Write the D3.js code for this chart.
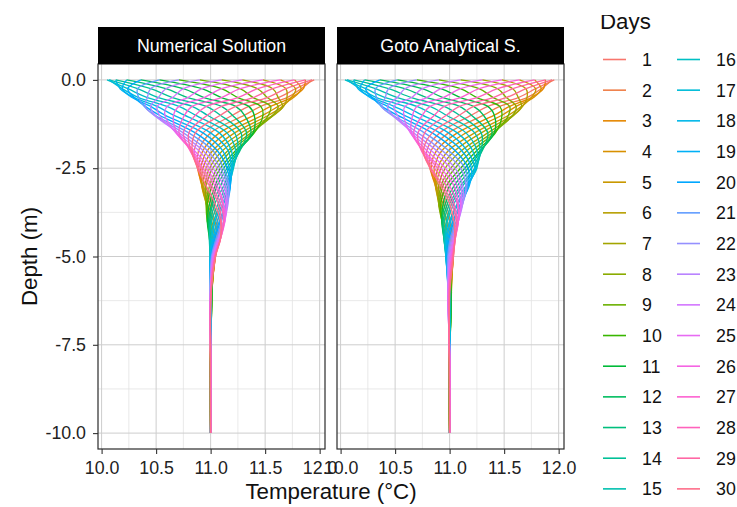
<!DOCTYPE html>
<html>
<head>
<meta charset="utf-8">
<script src="https://cdn.jsdelivr.net/npm/d3@7"></script>
<style>
  body { margin: 0; background: #fff; }
  svg { display: block; font-family: "Liberation Sans", Arial, Helvetica, sans-serif; }
</style>
</head>
<body>
<svg id="chart" width="737" height="507"></svg>
<script>
// ---- data ----
var days = [1, 2, 3, 4, 5, 6, 7, 8, 9, 10, 11, 12, 13, 14, 15,
            16, 17, 18, 19, 20, 21, 22, 23, 24, 25, 26, 27, 28, 29, 30];
var depths = [0, -0.25, -0.5, -0.75, -1, -1.5, -2, -2.5, -3, -3.5, -4, -4.5, -5, -6, -8, -10];

// temperature (°C), one row per depth, one column per day
var numericalT = [
  [11.95, 11.93, 11.87, 11.77, 11.64, 11.48, 11.29, 11.10, 10.90, 10.71, 10.53, 10.36, 10.23, 10.13, 10.07, 10.05, 10.07, 10.13, 10.23, 10.36, 10.53, 10.71, 10.90, 11.10, 11.29, 11.48, 11.64, 11.77, 11.87, 11.93],
  [11.78, 11.83, 11.85, 11.83, 11.78, 11.69, 11.57, 11.43, 11.27, 11.10, 10.92, 10.75, 10.59, 10.45, 10.33, 10.24, 10.19, 10.17, 10.19, 10.24, 10.33, 10.45, 10.59, 10.75, 10.92, 11.10, 11.27, 11.43, 11.57, 11.69],
  [11.62, 11.70, 11.74, 11.76, 11.74, 11.70, 11.62, 11.52, 11.39, 11.25, 11.10, 10.94, 10.79, 10.65, 10.52, 10.42, 10.34, 10.30, 10.28, 10.30, 10.34, 10.42, 10.52, 10.65, 10.79, 10.94, 11.10, 11.25, 11.39, 11.52],
  [11.35, 11.46, 11.55, 11.62, 11.66, 11.67, 11.66, 11.62, 11.55, 11.46, 11.35, 11.23, 11.10, 10.96, 10.83, 10.71, 10.60, 10.51, 10.45, 10.40, 10.39, 10.40, 10.45, 10.51, 10.60, 10.71, 10.83, 10.96, 11.10, 11.23],
  [11.20, 11.31, 11.40, 11.48, 11.53, 11.57, 11.58, 11.57, 11.53, 11.48, 11.40, 11.31, 11.20, 11.09, 10.97, 10.86, 10.76, 10.66, 10.58, 10.53, 10.49, 10.48, 10.49, 10.53, 10.58, 10.66, 10.76, 10.86, 10.97, 11.09],
  [10.93, 11.00, 11.08, 11.15, 11.22, 11.28, 11.33, 11.37, 11.39, 11.40, 11.39, 11.37, 11.33, 11.28, 11.22, 11.15, 11.08, 11.00, 10.93, 10.86, 10.80, 10.75, 10.71, 10.69, 10.68, 10.69, 10.71, 10.75, 10.80, 10.86],
  [10.85, 10.89, 10.93, 10.97, 11.02, 11.06, 11.11, 11.16, 11.19, 11.23, 11.25, 11.26, 11.27, 11.26, 11.25, 11.23, 11.19, 11.16, 11.11, 11.06, 11.02, 10.97, 10.93, 10.89, 10.85, 10.83, 10.82, 10.81, 10.82, 10.83],
  [10.88, 10.88, 10.89, 10.91, 10.93, 10.96, 10.99, 11.02, 11.06, 11.09, 11.12, 11.15, 11.17, 11.19, 11.20, 11.21, 11.20, 11.19, 11.17, 11.15, 11.12, 11.09, 11.06, 11.02, 10.99, 10.96, 10.93, 10.91, 10.89, 10.88],
  [10.95, 10.93, 10.92, 10.92, 10.92, 10.93, 10.95, 10.96, 10.99, 11.01, 11.04, 11.06, 11.09, 11.12, 11.14, 11.16, 11.17, 11.18, 11.18, 11.18, 11.17, 11.16, 11.14, 11.12, 11.09, 11.06, 11.04, 11.01, 10.99, 10.96],
  [11.02, 11.01, 10.99, 10.97, 10.96, 10.96, 10.96, 10.96, 10.96, 10.97, 10.99, 11.01, 11.02, 11.04, 11.07, 11.09, 11.11, 11.12, 11.14, 11.15, 11.15, 11.16, 11.15, 11.15, 11.14, 11.12, 11.11, 11.09, 11.07, 11.04],
  [11.08, 11.06, 11.04, 11.03, 11.01, 11.00, 10.99, 10.98, 10.97, 10.97, 10.97, 10.98, 10.99, 11.00, 11.01, 11.03, 11.04, 11.06, 11.08, 11.09, 11.10, 11.12, 11.12, 11.13, 11.13, 11.13, 11.12, 11.12, 11.10, 11.09],
  [11.08, 11.07, 11.07, 11.06, 11.05, 11.04, 11.03, 11.02, 11.01, 11.00, 10.99, 10.99, 10.99, 10.99, 10.99, 11.00, 11.01, 11.02, 11.03, 11.04, 11.05, 11.06, 11.07, 11.07, 11.08, 11.09, 11.09, 11.09, 11.09, 11.09],
  [11.045, 11.044, 11.043, 11.040, 11.037, 11.033, 11.028, 11.023, 11.017, 11.012, 11.007, 11.003, 11.000, 10.997, 10.996, 10.995, 10.996, 10.997, 11.000, 11.003, 11.007, 11.012, 11.017, 11.023, 11.028, 11.033, 11.037, 11.040, 11.043, 11.044],
  [11.007, 11.009, 11.010, 11.011, 11.012, 11.013, 11.013, 11.013, 11.012, 11.011, 11.010, 11.009, 11.007, 11.006, 11.004, 11.003, 11.001, 11.000, 10.999, 10.998, 10.997, 10.997, 10.997, 10.998, 10.999, 11.000, 11.001, 11.003, 11.004, 11.006],
  [10.998, 10.998, 10.998, 10.998, 10.998, 10.998, 10.998, 10.999, 10.999, 10.999, 11.000, 11.000, 11.001, 11.001, 11.001, 11.002, 11.002, 11.002, 11.002, 11.002, 11.002, 11.002, 11.001, 11.001, 11.001, 11.000, 11.000, 10.999, 10.999, 10.999],
  [11, 11, 11, 11, 11, 11, 11, 11, 11, 11, 11, 11, 11, 11, 11, 11, 11, 11, 11, 11, 11, 11, 11, 11, 11, 11, 11, 11, 11, 11]
];

var gotoT = [
  [11.96, 11.94, 11.88, 11.78, 11.64, 11.48, 11.30, 11.10, 10.90, 10.70, 10.52, 10.36, 10.22, 10.12, 10.06, 10.04, 10.06, 10.12, 10.22, 10.36, 10.52, 10.70, 10.90, 11.10, 11.30, 11.48, 11.64, 11.78, 11.88, 11.94],
  [11.79, 11.84, 11.86, 11.84, 11.79, 11.70, 11.58, 11.44, 11.27, 11.10, 10.92, 10.75, 10.59, 10.44, 10.32, 10.23, 10.18, 10.16, 10.18, 10.23, 10.32, 10.44, 10.59, 10.75, 10.92, 11.10, 11.27, 11.44, 11.58, 11.70],
  [11.63, 11.71, 11.75, 11.77, 11.75, 11.71, 11.63, 11.52, 11.40, 11.25, 11.10, 10.94, 10.79, 10.65, 10.52, 10.41, 10.33, 10.29, 10.27, 10.29, 10.33, 10.41, 10.52, 10.65, 10.79, 10.94, 11.10, 11.25, 11.40, 11.52],
  [11.35, 11.46, 11.55, 11.61, 11.66, 11.67, 11.66, 11.61, 11.55, 11.46, 11.35, 11.22, 11.09, 10.95, 10.82, 10.70, 10.59, 10.49, 10.43, 10.38, 10.37, 10.38, 10.43, 10.49, 10.59, 10.70, 10.82, 10.95, 11.09, 11.22],
  [11.20, 11.31, 11.41, 11.48, 11.54, 11.58, 11.59, 11.58, 11.54, 11.48, 11.41, 11.31, 11.20, 11.09, 10.97, 10.86, 10.75, 10.66, 10.58, 10.52, 10.48, 10.47, 10.48, 10.52, 10.58, 10.66, 10.75, 10.86, 10.97, 11.09],
  [10.91, 10.99, 11.07, 11.15, 11.23, 11.29, 11.35, 11.39, 11.41, 11.42, 11.41, 11.39, 11.35, 11.29, 11.23, 11.15, 11.07, 10.99, 10.91, 10.84, 10.77, 10.71, 10.67, 10.65, 10.64, 10.65, 10.67, 10.71, 10.77, 10.84],
  [10.79, 10.83, 10.88, 10.93, 10.99, 11.05, 11.11, 11.16, 11.21, 11.25, 11.28, 11.29, 11.30, 11.29, 11.28, 11.25, 11.21, 11.16, 11.11, 11.05, 10.99, 10.93, 10.88, 10.83, 10.79, 10.76, 10.75, 10.74, 10.75, 10.76],
  [10.82, 10.82, 10.83, 10.86, 10.89, 10.92, 10.96, 11.01, 11.05, 11.10, 11.14, 11.17, 11.20, 11.23, 11.24, 11.25, 11.24, 11.23, 11.20, 11.17, 11.14, 11.10, 11.05, 11.01, 10.96, 10.92, 10.89, 10.86, 10.83, 10.82],
  [10.90, 10.88, 10.87, 10.87, 10.87, 10.88, 10.90, 10.92, 10.94, 10.97, 11.00, 11.04, 11.07, 11.10, 11.12, 11.15, 11.16, 11.17, 11.18, 11.17, 11.16, 11.15, 11.12, 11.10, 11.07, 11.04, 11.00, 10.97, 10.94, 10.92],
  [10.98, 10.96, 10.94, 10.92, 10.91, 10.90, 10.90, 10.90, 10.91, 10.92, 10.94, 10.96, 10.98, 11.00, 11.02, 11.04, 11.07, 11.08, 11.10, 11.11, 11.12, 11.12, 11.12, 11.11, 11.10, 11.08, 11.07, 11.04, 11.02, 11.00],
  [11.03, 11.01, 11.00, 10.98, 10.97, 10.95, 10.94, 10.93, 10.93, 10.93, 10.93, 10.93, 10.94, 10.95, 10.97, 10.98, 11.00, 11.01, 11.03, 11.04, 11.06, 11.07, 11.08, 11.08, 11.08, 11.08, 11.08, 11.07, 11.06, 11.04],
  [11.042, 11.035, 11.026, 11.016, 11.005, 10.995, 10.984, 10.974, 10.965, 10.958, 10.952, 10.949, 10.948, 10.949, 10.952, 10.958, 10.965, 10.974, 10.984, 10.995, 11.005, 11.016, 11.026, 11.035, 11.042, 11.048, 11.051, 11.052, 11.051, 11.048],
  [11.035, 11.034, 11.032, 11.028, 11.023, 11.018, 11.011, 11.004, 10.996, 10.989, 10.982, 10.977, 10.972, 10.968, 10.966, 10.965, 10.966, 10.968, 10.972, 10.977, 10.982, 10.989, 10.996, 11.004, 11.011, 11.018, 11.023, 11.028, 11.032, 11.034],
  [11.005, 11.008, 11.011, 11.013, 11.015, 11.016, 11.016, 11.016, 11.015, 11.013, 11.011, 11.008, 11.005, 11.002, 10.998, 10.995, 10.992, 10.989, 10.987, 10.985, 10.984, 10.984, 10.984, 10.985, 10.987, 10.989, 10.992, 10.995, 10.998, 11.002],
  [10.997, 10.996, 10.996, 10.996, 10.996, 10.996, 10.997, 10.997, 10.998, 10.999, 11.000, 11.000, 11.001, 11.002, 11.003, 11.003, 11.004, 11.004, 11.004, 11.004, 11.004, 11.003, 11.003, 11.002, 11.001, 11.000, 11.000, 10.999, 10.998, 10.997],
  [11, 11, 11, 11, 11, 11, 11, 11, 11, 11, 11, 11, 11, 11, 11, 11, 11, 11, 11, 11, 11, 11, 11, 11, 11, 11, 11, 11, 11, 11]
];

var panelTitles = ["Numerical Solution", "Goto Analytical S."];
var xTicks = [10, 10.5, 11, 11.5, 12];
var xMinor = [10.25, 10.75, 11.25, 11.75];
var yTicks = [0, -2.5, -5, -7.5, -10];
var yMinor = [-1.25, -3.75, -6.25, -8.75];

// ---- layout ----
var svg = d3.select("#chart");
var font = "'Liberation Sans', Arial, Helvetica, sans-serif";
var panelW = 227, panelTop = 64, panelBottom = 449, stripTop = 27;
var panelX = [98, 337];

var x = d3.scaleLinear().domain([9.967, 12.049]).range([0, panelW]);
var y = d3.scaleLinear().domain([-10.45, 0.45]).range([panelBottom, panelTop]);

// ggplot2 default hue palette (hcl in polar Luv, c = 100, l = 65)
function hueColor(h) {
  var L = 65, C = 100, hr = h * Math.PI / 180;
  var U = C * Math.cos(hr), V = C * Math.sin(hr);
  var Y = 100 * Math.pow((L + 16) / 116, 3);
  var u = U / (13 * L) + 0.1978398, v = V / (13 * L) + 0.4683363;
  var X = 9 * Y * u / (4 * v);
  var Z = -X / 3 - 5 * Y + 3 * Y / v;
  function g(t) {
    t = t > 0.00304 ? 1.055 * Math.pow(t, 1 / 2.4) - 0.055 : 12.92 * t;
    return Math.round(255 * Math.max(0, Math.min(1, t)));
  }
  return d3.rgb(g((3.240479 * X - 1.537150 * Y - 0.498535 * Z) / 100),
                g((-0.969256 * X + 1.875992 * Y + 0.041556 * Z) / 100),
                g((0.055648 * X - 0.204043 * Y + 1.057311 * Z) / 100)).formatHex();
}
var color = d3.scaleOrdinal()
    .domain(days)
    .range(days.map(function(d, i) { return hueColor(15 + 12 * i); }));

var line = d3.line()
    .x(function(p) { return x(p.t); })
    .y(function(p) { return y(p.z); })
    .curve(d3.curveCatmullRom.alpha(0.5));

[numericalT, gotoT].forEach(function(temps, pi) {
  var g = svg.append("g").attr("transform", "translate(" + panelX[pi] + ",0)");

  g.append("rect")
      .attr("x", 0).attr("y", panelTop)
      .attr("width", panelW).attr("height", panelBottom - panelTop)
      .attr("fill", "#fff");

  // grid
  g.selectAll(".vminor").data(xMinor).enter().append("line")
      .attr("x1", x).attr("x2", x).attr("y1", panelTop).attr("y2", panelBottom)
      .attr("stroke", "#e3e3e3").attr("stroke-width", 0.8);
  g.selectAll(".hminor").data(yMinor).enter().append("line")
      .attr("x1", 0).attr("x2", panelW).attr("y1", y).attr("y2", y)
      .attr("stroke", "#e3e3e3").attr("stroke-width", 0.8);
  g.selectAll(".vmajor").data(xTicks).enter().append("line")
      .attr("x1", x).attr("x2", x).attr("y1", panelTop).attr("y2", panelBottom)
      .attr("stroke", "#cdcdcd").attr("stroke-width", 1);
  g.selectAll(".hmajor").data(yTicks).enter().append("line")
      .attr("x1", 0).attr("x2", panelW).attr("y1", y).attr("y2", y)
      .attr("stroke", "#cdcdcd").attr("stroke-width", 1);

  // one profile per day, drawn in day order (day 30 on top)
  var profiles = days.map(function(d, di) {
    return depths.map(function(z, zi) { return {z: z, t: temps[zi][di]}; });
  });
  g.selectAll(".profile").data(profiles).enter().append("path")
      .attr("d", line)
      .attr("fill", "none")
      .attr("stroke", function(p, i) { return color(days[i]); })
      .attr("stroke-width", 1.35);

  // border
  g.append("rect")
      .attr("x", 0).attr("y", panelTop)
      .attr("width", panelW).attr("height", panelBottom - panelTop)
      .attr("fill", "none").attr("stroke", "#2b2b2b").attr("stroke-width", 1.2);

  // strip
  g.append("rect")
      .attr("x", 0).attr("y", stripTop)
      .attr("width", panelW).attr("height", panelTop - stripTop)
      .attr("fill", "#000");
  g.append("text")
      .attr("x", panelW / 2).attr("y", 52)
      .attr("text-anchor", "middle")
      .attr("fill", "#fff")
      .style("font-size", "17.8px")
      .text(panelTitles[pi]);

  // x axis
  var xa = g.append("g")
      .attr("transform", "translate(0," + panelBottom + ")")
      .call(d3.axisBottom(x).tickValues(xTicks)
        .tickFormat(function(d) { return d.toFixed(1); })
        .tickSize(5).tickPadding(7));
  xa.select(".domain").remove();
  xa.selectAll("line").attr("stroke", "#333").attr("stroke-width", 1.1);
  xa.selectAll("text").attr("fill", "#222").style("font-size", "17.8px").style("font-family", font);
});

// y axis (left panel only)
var ya = svg.append("g")
    .attr("transform", "translate(" + panelX[0] + ",0)")
    .call(d3.axisLeft(y).tickValues(yTicks)
      .tickFormat(function(d) { return d.toFixed(1); })
      .tickSize(5).tickPadding(7));
ya.select(".domain").remove();
ya.selectAll("line").attr("stroke", "#333").attr("stroke-width", 1.1);
ya.selectAll("text").attr("fill", "#222").style("font-size", "17.8px").style("font-family", font);

// axis titles
svg.append("text")
    .attr("x", (panelX[0] + panelX[1] + panelW) / 2).attr("y", 499)
    .attr("text-anchor", "middle").attr("fill", "#111")
    .style("font-size", "22.3px")
    .text("Temperature (°C)");
svg.append("text")
    .attr("transform", "translate(37," + ((panelTop + panelBottom) / 2) + ") rotate(-90)")
    .attr("text-anchor", "middle").attr("fill", "#111")
    .style("font-size", "22.3px")
    .text("Depth (m)");

// legend
svg.append("clipPath").attr("id", "titleClip")
  .append("rect").attr("x", 590).attr("y", 15).attr("width", 140).attr("height", 30);
svg.append("text")
    .attr("x", 600).attr("y", 28.5)
    .attr("clip-path", "url(#titleClip)")
    .attr("fill", "#111")
    .style("font-size", "22.3px")
    .text("Days");

var key = svg.selectAll(".key").data(days).enter().append("g")
    .attr("transform", function(d, i) {
      return "translate(" + (603 + Math.floor(i / 15) * 74) + "," + (59.5 + (i % 15) * 30.67) + ")";
    });
key.append("line")
    .attr("x1", 0).attr("x2", 23)
    .attr("stroke", function(d) { return color(d); })
    .attr("stroke-width", 1.6);
key.append("text")
    .attr("x", 39).attr("dy", "0.36em")
    .attr("fill", "#111")
    .style("font-size", "17.8px")
    .text(function(d) { return d; });
</script>
</body>
</html>
